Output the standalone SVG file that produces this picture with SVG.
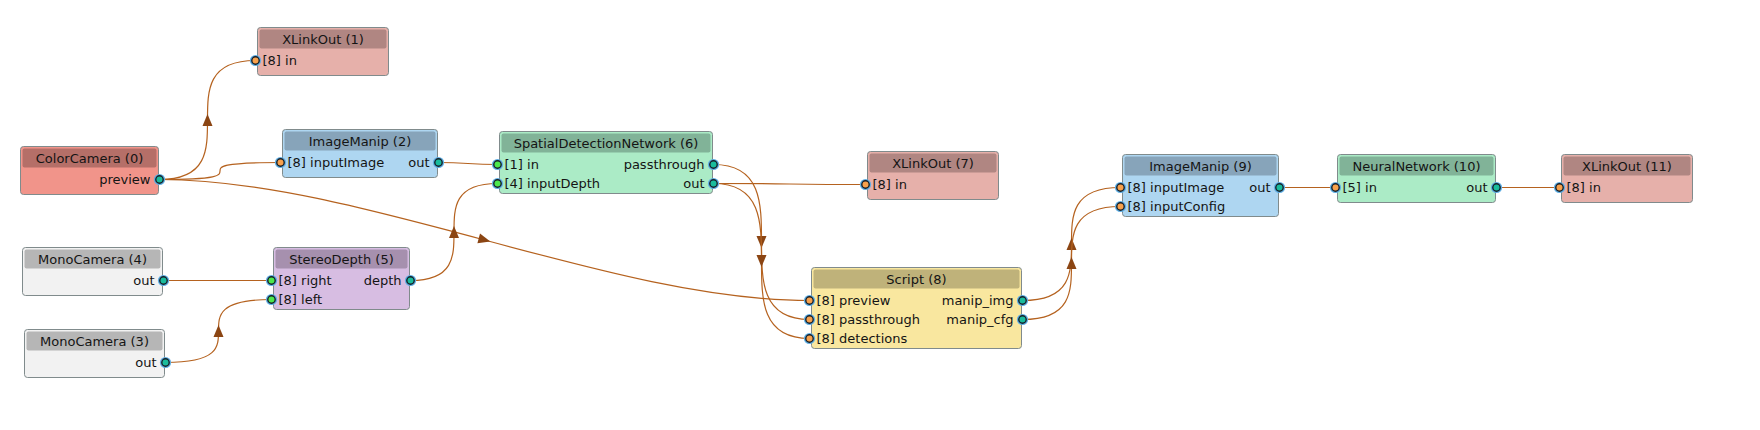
<svg xmlns="http://www.w3.org/2000/svg" width="1760" height="430" viewBox="0 0 1760 430">
<style>
  .box { stroke: #808b8c; stroke-width: 1; }
  .hdr { stroke: none; }
  .t { font-family: "DejaVu Sans", sans-serif; font-size: 13px; fill: #141414; }
  .c { text-anchor: middle; }
  .r { text-anchor: end; }
  .edge { fill: none; stroke: #b5621f; stroke-width: 1.2; }
  .arr { marker-mid: url(#arrow); }
  .pring { fill: #5dade2; }
  .pout { fill: #1abc9c; stroke: #17202a; stroke-width: 1.4; }
  .pin-o { fill: #f8a14c; stroke: #17202a; stroke-width: 1.4; }
  .pin-g { fill: #4de84d; stroke: #17202a; stroke-width: 1.4; }
  .red .box { fill: #f1948a; } .red .hdr { fill: #b56f68; }
  .xl .box { fill: #e6b0aa; } .xl .hdr { fill: #b08682; }
  .blue .box { fill: #aed6f1; } .blue .hdr { fill: #87a4ba; }
  .green .box { fill: #abebc6; } .green .hdr { fill: #81b398; }
  .purple .box { fill: #d7bde2; } .purple .hdr { fill: #a690ae; }
  .gray .box { fill: #f2f2f2; } .gray .hdr { fill: #b6b6b6; }
  .yellow .box { fill: #f9e79f; } .yellow .hdr { fill: #bfb27a; }
</style>
<defs>
  <marker id="arrow" markerUnits="userSpaceOnUse" markerWidth="14" markerHeight="12" viewBox="-7 -6 14 12" refX="0" refY="0" orient="auto">
    <path d="M -6 -5 L 6 0 L -6 5 Z" fill="#8b4513"/>
  </marker>
</defs>
<rect width="1760" height="430" fill="#ffffff"/>

<g id="connectors">
  <path class="edge arr" d="M159.5 179.5 C207.5 179.5 207.5 149.75 207.5 120 C207.5 90.25 207.5 60.5 255.5 60.5"/>
  <path class="edge" d="M159.5 179.5 C220 179.5 220 175.25 220 171 C220 166.75 220 162.5 280.5 162.5"/>
  <path class="edge arr" d="M159.5 179.5 C259.5 179.5 372 209.75 484.5 240 C597 270.25 709.5 300.5 809.5 300.5"/>
  <path class="edge" d="M438.5 162.5 C468 162.5 468 164.5 497.5 164.5"/>
  <path class="edge" d="M163.5 280.5 L271.5 280.5"/>
  <path class="edge arr" d="M165.5 362.5 C218.5 362.5 218.5 346.75 218.5 331 C218.5 315.25 218.5 299.5 271.5 299.5"/>
  <path class="edge arr" d="M410.5 280.5 C454 280.5 454 256.25 454 232 C454 207.75 454 183.5 497.5 183.5"/>
  <path class="edge arr" d="M713.5 164.5 C761.5 164.5 761.5 203.25 761.5 242 C761.5 280.75 761.5 319.5 809.5 319.5"/>
  <path class="edge arr" d="M713.5 183.5 C761.5 183.5 761.5 222.25 761.5 261 C761.5 299.75 761.5 338.5 809.5 338.5"/>
  <path class="edge" d="M713.5 183.5 C789.5 183.5 789.5 184.5 865.5 184.5"/>
  <path class="edge arr" d="M1022.5 300.5 C1071.5 300.5 1071.5 272.25 1071.5 244 C1071.5 215.75 1071.5 187.5 1120.5 187.5"/>
  <path class="edge arr" d="M1022.5 319.5 C1071.5 319.5 1071.5 291.25 1071.5 263 C1071.5 234.75 1071.5 206.5 1120.5 206.5"/>
  <path class="edge" d="M1279.5 187.5 L1335.5 187.5"/>
  <path class="edge" d="M1496.5 187.5 L1559.5 187.5"/>
</g>

<g id="node0" class="red">
  <rect class="box" x="20.5" y="146.5" width="138" height="48" rx="3"/>
  <rect class="hdr" x="22.5" y="148.5" width="134" height="19" rx="2"/>
  <text class="t c" x="89.5" y="162.5">ColorCamera (0)</text>
  <text class="t r" x="150.5" y="184">preview</text>
  <circle class="pring" cx="159.5" cy="179.5" r="5.6"/><circle class="pout" cx="159.5" cy="179.5" r="3.7"/>
</g>

<g id="node1" class="xl">
  <rect class="box" x="257.5" y="27.5" width="131" height="48" rx="3"/>
  <rect class="hdr" x="259.5" y="29.5" width="127" height="19" rx="2"/>
  <text class="t c" x="323" y="43.5">XLinkOut (1)</text>
  <text class="t" x="262.5" y="65">[8] in</text>
  <circle class="pring" cx="255.5" cy="60.5" r="5.6"/><circle class="pin-o" cx="255.5" cy="60.5" r="3.7"/>
</g>

<g id="node2" class="blue">
  <rect class="box" x="282.5" y="129.5" width="155" height="48" rx="3"/>
  <rect class="hdr" x="284.5" y="131.5" width="151" height="19" rx="2"/>
  <text class="t c" x="360" y="145.5">ImageManip (2)</text>
  <text class="t" x="287.5" y="167">[8] inputImage</text>
  <text class="t r" x="429.5" y="167">out</text>
  <circle class="pring" cx="280.5" cy="162.5" r="5.6"/><circle class="pin-o" cx="280.5" cy="162.5" r="3.7"/>
  <circle class="pring" cx="438.5" cy="162.5" r="5.6"/><circle class="pout" cx="438.5" cy="162.5" r="3.7"/>
</g>

<g id="node4" class="gray">
  <rect class="box" x="22.5" y="247.5" width="140" height="48" rx="3"/>
  <rect class="hdr" x="24.5" y="249.5" width="136" height="19" rx="2"/>
  <text class="t c" x="92.5" y="263.5">MonoCamera (4)</text>
  <text class="t r" x="154.5" y="285">out</text>
  <circle class="pring" cx="163.5" cy="280.5" r="5.6"/><circle class="pout" cx="163.5" cy="280.5" r="3.7"/>
</g>

<g id="node3" class="gray">
  <rect class="box" x="24.5" y="329.5" width="140" height="48" rx="3"/>
  <rect class="hdr" x="26.5" y="331.5" width="136" height="19" rx="2"/>
  <text class="t c" x="94.5" y="345.5">MonoCamera (3)</text>
  <text class="t r" x="156.5" y="367">out</text>
  <circle class="pring" cx="165.5" cy="362.5" r="5.6"/><circle class="pout" cx="165.5" cy="362.5" r="3.7"/>
</g>

<g id="node5" class="purple">
  <rect class="box" x="273.5" y="247.5" width="136" height="62" rx="3"/>
  <rect class="hdr" x="275.5" y="249.5" width="132" height="19" rx="2"/>
  <text class="t c" x="341.5" y="263.5">StereoDepth (5)</text>
  <text class="t" x="278.5" y="285">[8] right</text>
  <text class="t" x="278.5" y="304">[8] left</text>
  <text class="t r" x="401.5" y="285">depth</text>
  <circle class="pring" cx="271.5" cy="280.5" r="5.6"/><circle class="pin-g" cx="271.5" cy="280.5" r="3.7"/>
  <circle class="pring" cx="271.5" cy="299.5" r="5.6"/><circle class="pin-g" cx="271.5" cy="299.5" r="3.7"/>
  <circle class="pring" cx="410.5" cy="280.5" r="5.6"/><circle class="pout" cx="410.5" cy="280.5" r="3.7"/>
</g>

<g id="node6" class="green">
  <rect class="box" x="499.5" y="131.5" width="213" height="62" rx="3"/>
  <rect class="hdr" x="501.5" y="133.5" width="209" height="19" rx="2"/>
  <text class="t c" x="606" y="147.5">SpatialDetectionNetwork (6)</text>
  <text class="t" x="504.5" y="169">[1] in</text>
  <text class="t" x="504.5" y="188">[4] inputDepth</text>
  <text class="t r" x="704.5" y="169">passthrough</text>
  <text class="t r" x="704.5" y="188">out</text>
  <circle class="pring" cx="497.5" cy="164.5" r="5.6"/><circle class="pin-g" cx="497.5" cy="164.5" r="3.7"/>
  <circle class="pring" cx="497.5" cy="183.5" r="5.6"/><circle class="pin-g" cx="497.5" cy="183.5" r="3.7"/>
  <circle class="pring" cx="713.5" cy="164.5" r="5.6"/><circle class="pout" cx="713.5" cy="164.5" r="3.7"/>
  <circle class="pring" cx="713.5" cy="183.5" r="5.6"/><circle class="pout" cx="713.5" cy="183.5" r="3.7"/>
</g>

<g id="node7" class="xl">
  <rect class="box" x="867.5" y="151.5" width="131" height="48" rx="3"/>
  <rect class="hdr" x="869.5" y="153.5" width="127" height="19" rx="2"/>
  <text class="t c" x="933" y="167.5">XLinkOut (7)</text>
  <text class="t" x="872.5" y="189">[8] in</text>
  <circle class="pring" cx="865.5" cy="184.5" r="5.6"/><circle class="pin-o" cx="865.5" cy="184.5" r="3.7"/>
</g>

<g id="node8" class="yellow">
  <rect class="box" x="811.5" y="267.5" width="210" height="81" rx="3"/>
  <rect class="hdr" x="813.5" y="269.5" width="206" height="19" rx="2"/>
  <text class="t c" x="916.5" y="283.5">Script (8)</text>
  <text class="t" x="816.5" y="305">[8] preview</text>
  <text class="t" x="816.5" y="324">[8] passthrough</text>
  <text class="t" x="816.5" y="343">[8] detections</text>
  <text class="t r" x="1013.5" y="305">manip_img</text>
  <text class="t r" x="1013.5" y="324">manip_cfg</text>
  <circle class="pring" cx="809.5" cy="300.5" r="5.6"/><circle class="pin-o" cx="809.5" cy="300.5" r="3.7"/>
  <circle class="pring" cx="809.5" cy="319.5" r="5.6"/><circle class="pin-o" cx="809.5" cy="319.5" r="3.7"/>
  <circle class="pring" cx="809.5" cy="338.5" r="5.6"/><circle class="pin-o" cx="809.5" cy="338.5" r="3.7"/>
  <circle class="pring" cx="1022.5" cy="300.5" r="5.6"/><circle class="pout" cx="1022.5" cy="300.5" r="3.7"/>
  <circle class="pring" cx="1022.5" cy="319.5" r="5.6"/><circle class="pout" cx="1022.5" cy="319.5" r="3.7"/>
</g>

<g id="node9" class="blue">
  <rect class="box" x="1122.5" y="154.5" width="156" height="62" rx="3"/>
  <rect class="hdr" x="1124.5" y="156.5" width="152" height="19" rx="2"/>
  <text class="t c" x="1200.5" y="170.5">ImageManip (9)</text>
  <text class="t" x="1127.5" y="192">[8] inputImage</text>
  <text class="t" x="1127.5" y="211">[8] inputConfig</text>
  <text class="t r" x="1270.5" y="192">out</text>
  <circle class="pring" cx="1120.5" cy="187.5" r="5.6"/><circle class="pin-o" cx="1120.5" cy="187.5" r="3.7"/>
  <circle class="pring" cx="1120.5" cy="206.5" r="5.6"/><circle class="pin-o" cx="1120.5" cy="206.5" r="3.7"/>
  <circle class="pring" cx="1279.5" cy="187.5" r="5.6"/><circle class="pout" cx="1279.5" cy="187.5" r="3.7"/>
</g>

<g id="node10" class="green">
  <rect class="box" x="1337.5" y="154.5" width="158" height="48" rx="3"/>
  <rect class="hdr" x="1339.5" y="156.5" width="154" height="19" rx="2"/>
  <text class="t c" x="1416.5" y="170.5">NeuralNetwork (10)</text>
  <text class="t" x="1342.5" y="192">[5] in</text>
  <text class="t r" x="1487.5" y="192">out</text>
  <circle class="pring" cx="1335.5" cy="187.5" r="5.6"/><circle class="pin-o" cx="1335.5" cy="187.5" r="3.7"/>
  <circle class="pring" cx="1496.5" cy="187.5" r="5.6"/><circle class="pout" cx="1496.5" cy="187.5" r="3.7"/>
</g>

<g id="node11" class="xl">
  <rect class="box" x="1561.5" y="154.5" width="131" height="48" rx="3"/>
  <rect class="hdr" x="1563.5" y="156.5" width="127" height="19" rx="2"/>
  <text class="t c" x="1627" y="170.5">XLinkOut (11)</text>
  <text class="t" x="1566.5" y="192">[8] in</text>
  <circle class="pring" cx="1559.5" cy="187.5" r="5.6"/><circle class="pin-o" cx="1559.5" cy="187.5" r="3.7"/>
</g>
</svg>
